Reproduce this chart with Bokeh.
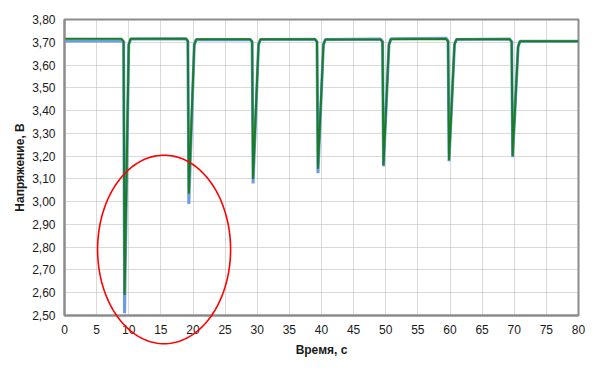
import numpy as np
from bokeh.plotting import figure
from bokeh.layouts import column
from bokeh.models import Range1d, FixedTicker, CustomJSTickFormatter
from bokeh.embed import file_html
from bokeh.resources import INLINE

# ---- data ----
time_s = [0.0,
          8.9, 9.2, 9.35, 10.0, 10.3,
          18.9, 19.2, 19.35, 20.2, 20.5,
          28.9, 29.2, 29.35, 30.2, 30.5,
          39.0, 39.3, 39.45, 40.3, 40.6,
          49.2, 49.5, 49.65, 50.5, 50.8,
          59.4, 59.7, 59.85, 60.7, 61.0,
          69.3, 69.6, 69.75, 70.6, 70.9,
          80.0]

voltage_blue = [3.706,
                3.707, 3.700, 2.51, 3.69, 3.714,
                3.716, 3.705, 2.99, 3.69, 3.711,
                3.712, 3.702, 3.08, 3.69, 3.712,
                3.713, 3.702, 3.125, 3.69, 3.712,
                3.714, 3.703, 3.155, 3.69, 3.715,
                3.718, 3.705, 3.178, 3.69, 3.712,
                3.714, 3.702, 3.195, 3.68, 3.705,
                3.705]

voltage_green = [3.715,
                 3.715, 3.705, 2.59, 3.69, 3.716,
                 3.716, 3.706, 3.035, 3.69, 3.713,
                 3.713, 3.703, 3.10, 3.69, 3.713,
                 3.713, 3.703, 3.145, 3.69, 3.712,
                 3.712, 3.702, 3.16, 3.69, 3.713,
                 3.714, 3.704, 3.182, 3.69, 3.713,
                 3.713, 3.703, 3.20, 3.68, 3.705,
                 3.705]

x_ticks = list(range(0, 81, 5))
y_ticks = [2.5, 2.6, 2.7, 2.8, 2.9, 3.0, 3.1, 3.2, 3.3, 3.4, 3.5, 3.6, 3.7, 3.8]

x_label = "Время, с"
y_label = "Напряжение, В"

# highlight ellipse (data units)
ell_cx, ell_cy = 15.5, 2.79
ell_rx, ell_ry = 10.35, 0.414

FONT = "Liberation Sans"
W, H = 600, 371
B_LEFT, B_RIGHT, B_TOP, B_BOTTOM = 64, 22, 19, 56
X0, X1, Y0, Y1 = 0, 80, 2.5, 3.8

p = figure(width=W, height=H, output_backend="svg", toolbar_location=None,
           x_range=Range1d(X0, X1), y_range=Range1d(Y0, Y1),
           min_border_left=B_LEFT, min_border_right=B_RIGHT,
           min_border_top=B_TOP, min_border_bottom=B_BOTTOM)

p.background_fill_color = "white"
p.border_fill_color = "white"
p.outline_line_color = "#8c8c8c"
p.outline_line_width = 2

for ax in (p.xaxis, p.yaxis):
    ax.axis_line_color = "#8c8c8c"
    ax.axis_line_width = 2
    ax.major_tick_line_color = None
    ax.minor_tick_line_color = None
    ax.major_label_text_font = FONT
    ax.major_label_text_font_size = "12px"
    ax.major_label_text_color = "#1a1a1a"
    ax.axis_label_text_font = FONT
    ax.axis_label_text_font_size = "12px"
    ax.axis_label_text_font_style = "bold"
    ax.axis_label_text_color = "#1a1a1a"

p.xaxis.ticker = FixedTicker(ticks=x_ticks)
p.yaxis.ticker = FixedTicker(ticks=y_ticks)
p.yaxis.formatter = CustomJSTickFormatter(code="return tick.toFixed(2).replace('.', ',');")
p.xaxis.axis_label = x_label
p.yaxis.axis_label = y_label
p.xaxis.major_label_standoff = 3
p.yaxis.major_label_standoff = 3
p.xaxis.axis_label_standoff = 6
p.yaxis.axis_label_standoff = 2

for g in (p.xgrid, p.ygrid):
    g.grid_line_color = "#b4b4b4"
    g.grid_line_dash = "1 1"
    g.grid_line_width = 1

p.line(time_s, voltage_blue, line_color="#6b9be0", line_width=3)
p.line(time_s, voltage_green, line_color="#1a7d23", line_width=2)

# transparent overlay: same horizontal frame as the main plot, vertical frame
# spanning the whole canvas, so the highlight ellipse may extend below the axis
fh = H - B_TOP - B_BOTTOM
sy = (Y1 - Y0) / fh
ov = figure(width=W, height=H, output_backend="svg", toolbar_location=None,
            x_range=Range1d(X0, X1),
            y_range=Range1d(Y0 - B_BOTTOM * sy, Y1 + B_TOP * sy),
            x_axis_type=None, y_axis_type=None,
            min_border_left=B_LEFT, min_border_right=B_RIGHT,
            min_border_top=0, min_border_bottom=0,
            styles={"position": "absolute", "left": "0px", "top": "0px"})
ov.background_fill_alpha = 0
ov.border_fill_alpha = 0
ov.outline_line_color = None
ov.grid.visible = False

theta = np.linspace(0, 2 * np.pi, 181)
ex = (ell_cx + ell_rx * np.cos(theta)).tolist()
ey = (ell_cy + ell_ry * np.sin(theta)).tolist()
ov.line(ex, ey, line_color="#ff0000", line_width=1.6)

layout = column(p, ov)
open("out.html", "w").write(file_html(layout, INLINE))
